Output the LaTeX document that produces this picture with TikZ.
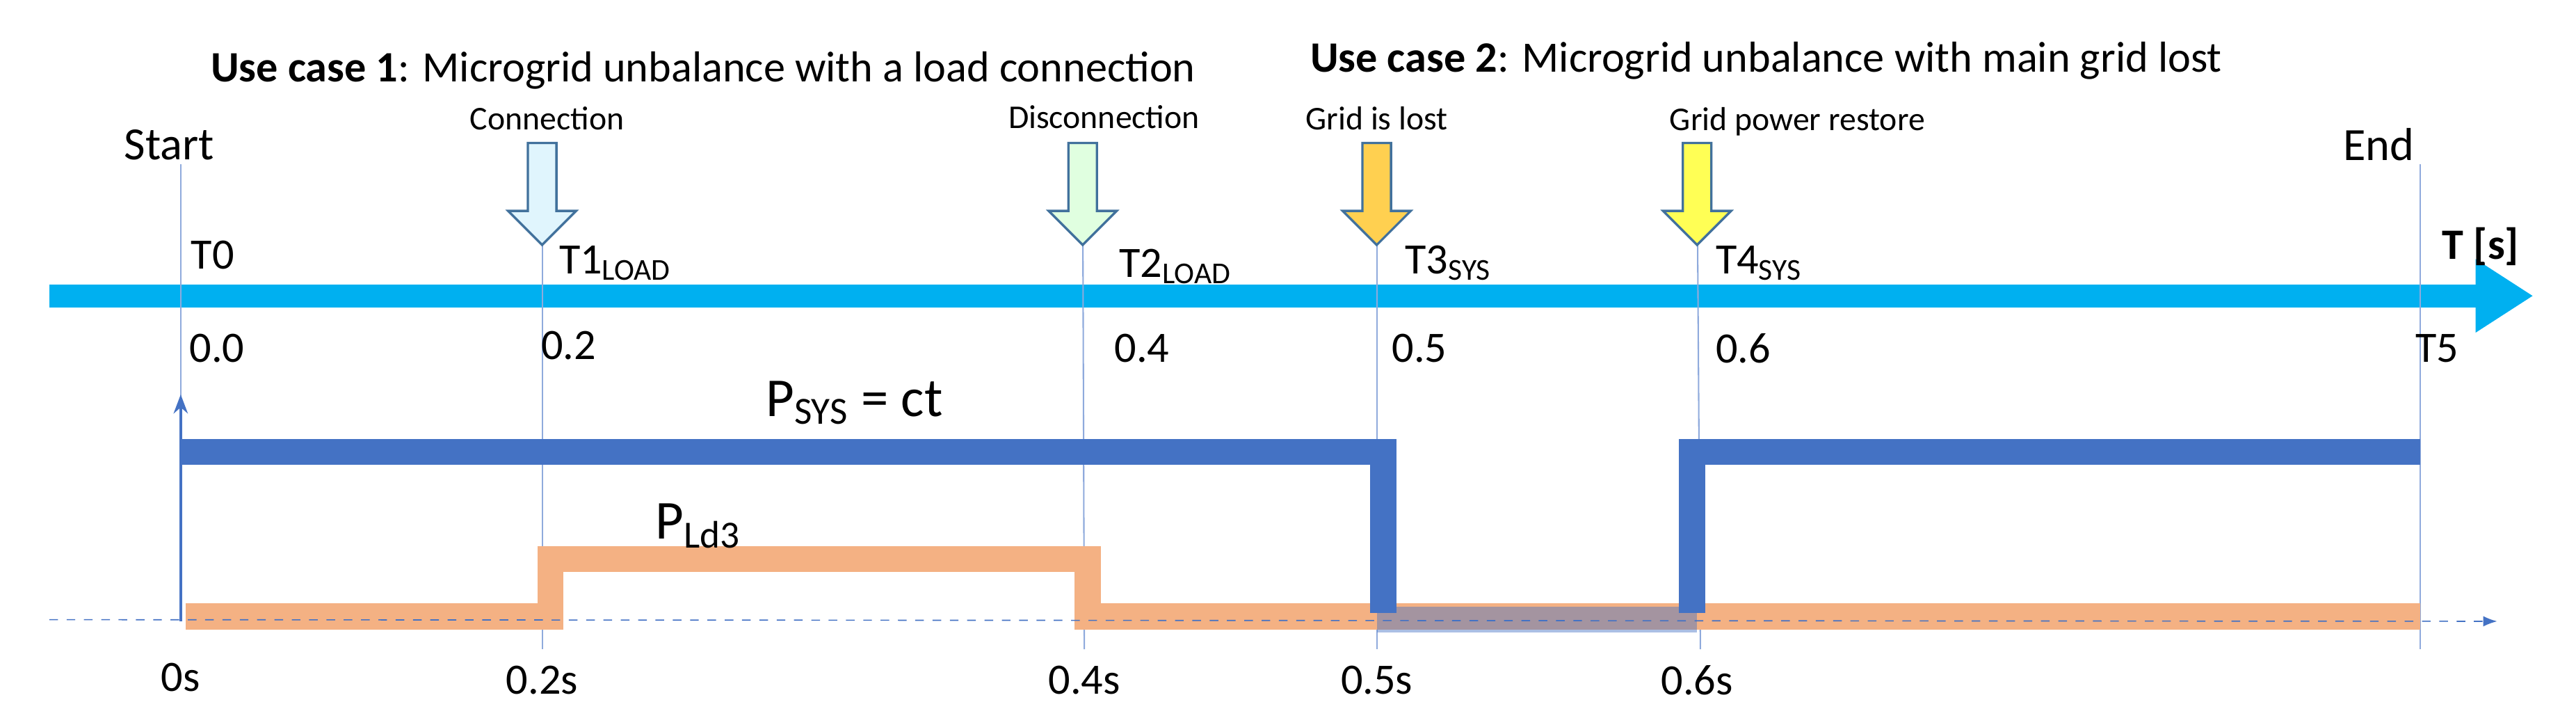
\documentclass[tikz,border=0pt]{standalone}
\usepackage{fontspec}
\setmainfont{Carlito}
\usetikzlibrary{arrows.meta,shapes.arrows}
\definecolor{axisblue}{HTML}{00B0F0}
\definecolor{sysblue}{HTML}{4472C4}
\definecolor{ldorange}{HTML}{F4B183}
\definecolor{guide}{HTML}{8FAADC}
\definecolor{arrowedge}{HTML}{41719C}
\definecolor{lostgold}{HTML}{FFD050}
\definecolor{restyellow}{HTML}{FFFF55}

\begin{document}
\begin{tikzpicture}[x=0.02cm,y=-0.02cm,
    event/.style={single arrow,draw=arrowedge,thick,shape border rotate=270,
      minimum height=1.24cm,inner sep=0.16cm,single arrow head extend=0.24cm,anchor=tip},
    guideline/.style={draw=guide,line width=0.5pt},
    lbl/.style={font=\fontsize{15}{17}\selectfont,anchor=west,inner sep=0pt},
    small/.style={font=\fontsize{11.5}{13}\selectfont,inner sep=0pt},
    title/.style={font=\fontsize{15}{17}\selectfont,inner sep=0pt}]
  \useasboundingbox (0,0) rectangle (1568,441);

  % titles and event names
  \node[title] (uc1) at (428,43) {\textbf{Use case 1}: Microgrid unbalance with a load connection};
  \node[title] (uc2) at (1075,37) {\textbf{Use case 2}: Microgrid unbalance with main grid lost};
  \node[small] (conn) at (333,72) {Connection};
  \node[small] (disc) at (672,71) {Disconnection};
  \node[small] (lost) at (838,72) {Grid is lost};
  \node[small] (rest) at (1094,74) {Grid power restore};
  \node[font=\fontsize{16}{18}\selectfont,inner sep=0pt] (start) at (103,88) {Start};
  \node[font=\fontsize{16}{18}\selectfont,inner sep=0pt] (end) at (1448,88) {End};

  % time axis
  \coordinate (ax0) at (30,180);
  \coordinate (ax1) at (1542,180);
  \draw[axisblue,line width=8pt,-{Triangle[length=20pt,width=24pt]}] (ax0) -- (ax1);
  \node[font=\fontsize{15}{17}\selectfont\bfseries,inner sep=0pt] (tunit) at (1510,150) {T [s]};

  % guide lines
  \coordinate (g0t) at (110,100);  \coordinate (g0b) at (110,378);
  \coordinate (g1t) at (330,100);  \coordinate (g1b) at (330,395);
  \coordinate (g2t) at (659,100);  \coordinate (g2b) at (660,395);
  \coordinate (g3t) at (838,100);  \coordinate (g3b) at (838,395);
  \coordinate (g4t) at (1033,100); \coordinate (g4b) at (1035,395);
  \coordinate (g5t) at (1473,100); \coordinate (g5b) at (1473,395);
  \foreach \g in {0,...,5}
    \draw[guideline] (g\g t) -- (g\g b);

  % event arrows
  \node[event,fill=cyan!12] (a1) at (330,150) {};
  \node[event,fill=green!12] (a2) at (659,150) {};
  \node[event,fill=lostgold] (a3) at (838,150) {};
  \node[event,fill=restyellow] (a4) at (1033,150) {};

  % labels on the axis
  \node[lbl] (t0) at (116,155) {T0};
  \node[lbl] (t1) at (340,160) {T1\textsubscript{LOAD}};
  \node[lbl] (t2) at (681,162) {T2\textsubscript{LOAD}};
  \node[lbl] (t3) at (855,160) {T3\textsubscript{SYS}};
  \node[lbl] (t4) at (1044,160) {T4\textsubscript{SYS}};
  \node[lbl] (v0) at (115,212) {0.0};
  \node[lbl] (v1) at (329,210) {0.2};
  \node[lbl] (v2) at (678,212) {0.4};
  \node[lbl] (v3) at (847,212) {0.5};
  \node[lbl] (v4) at (1044,212) {0.6};
  \node[lbl] (t5) at (1470,212) {T5};

  % signals
  \draw[sysblue,thick,-{Stealth}] (g0b) -- (110,240);
  \draw[ldorange,line width=9pt] (113,375) -- (335,375) -- (335,340) -- (662,340)
    -- (662,375) -- (1473,375);
  \draw[sysblue,line width=9pt] (110,275) -- (842,275) -- (842,373);
  \draw[sysblue,line width=9pt] (1030,373) -- (1030,275) -- (1473,275);
  \fill[sysblue,opacity=0.45] (838,369) rectangle (1033,385);
  \draw[sysblue,dashed,thin,-{Latex}] (30,377) -- (1520,378);
  \node[font=\fontsize{19}{21}\selectfont,inner sep=0pt] (psys) at (520,245) {P\textsubscript{SYS} = ct};
  \node[font=\fontsize{19}{21}\selectfont,inner sep=0pt] (pld) at (425,320) {P\textsubscript{Ld3}};

  % bottom times
  \node[lbl,anchor=center] (s0) at (110,412) {0s};
  \node[lbl,anchor=center] (s1) at (330,414) {0.2s};
  \node[lbl,anchor=center] (s2) at (660,414) {0.4s};
  \node[lbl,anchor=center] (s3) at (838,414) {0.5s};
  \node[lbl,anchor=center] (s4) at (1033,414) {0.6s};
\end{tikzpicture}
\end{document}
